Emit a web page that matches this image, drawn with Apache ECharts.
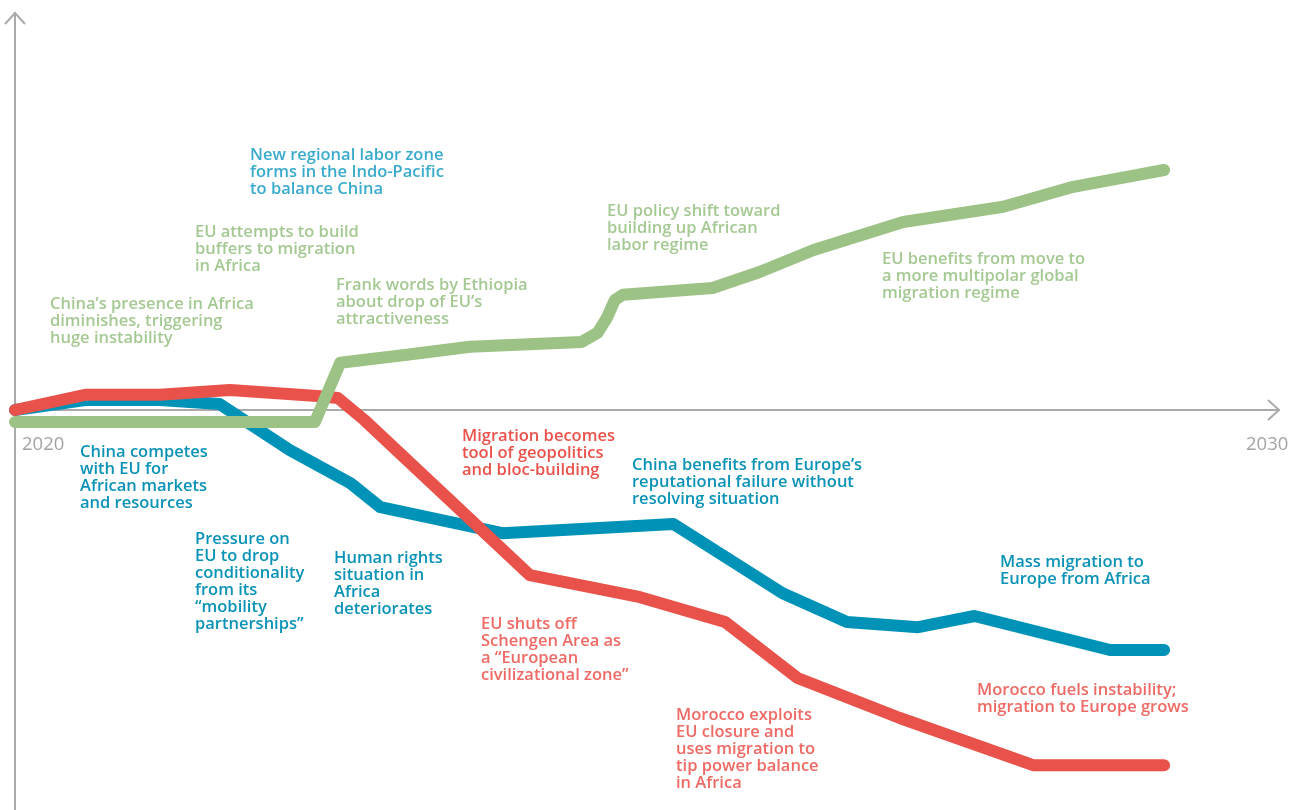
<!DOCTYPE html>
<html>
<head>
<meta charset="utf-8">
<title>Scenario paths 2020-2030</title>
<script src="https://cdn.jsdelivr.net/npm/echarts@6/dist/echarts.min.js"></script>
<style>
  html, body { margin: 0; padding: 0; background: #fff; }
  #chart { width: 1298px; height: 810px; }
</style>
</head>
<body>
<div id="chart"></div>
<script>
// years on x, a scenario index on y (0 = today's level)
const greenYears = [2020, 2022.61, 2022.83, 2023.41, 2023.96, 2024.93, 2025.07, 2025.15, 2025.22, 2025.29, 2026.07, 2026.48, 2026.95, 2027.73, 2028.6, 2029.21, 2030];
const greenValues = [-0.3, -0.3, 1.18, 1.38, 1.58, 1.7, 1.93, 2.3, 2.75, 2.88, 3.05, 3.45, 4.0, 4.7, 5.08, 5.58, 6.0];

const blueYears = [2020, 2020.61, 2021.26, 2021.78, 2022.39, 2022.92, 2023.18, 2024.24, 2025.73, 2026.68, 2027.24, 2027.86, 2028.35, 2029.53, 2030];
const blueValues = [0, 0.25, 0.25, 0.15, -1.0, -1.83, -2.43, -3.08, -2.85, -4.58, -5.3, -5.43, -5.15, -6.0, -6.0];

const redYears = [2020, 2020.61, 2021.26, 2021.87, 2022.63, 2022.81, 2023.04, 2024.48, 2025.44, 2026.18, 2026.81, 2027.7, 2028.86, 2030];
const redValues = [0, 0.38, 0.38, 0.5, 0.35, 0.3, -0.25, -4.13, -4.68, -5.3, -6.7, -7.7, -8.88, -8.88];

const tickLabels = ['2020', '2030'];

// annotations: [text lines, colour key, left px, top px]
const notes = [
  [['New regional labor zone', 'forms in the Indo-Pacific', 'to balance China'], 'blueLight', 250, 147],
  [['EU attempts to build', 'buffers to migration', 'in Africa'], 'green', 195, 224],
  [['China\u2019s presence in Africa', 'diminishes, triggering', 'huge instability'], 'green', 50, 296],
  [['Frank words by Ethiopia', 'about drop of EU\u2019s', 'attractiveness'], 'green', 336, 277],
  [['EU policy shift toward', 'building up African', 'labor regime'], 'green', 607, 203],
  [['EU benefits from move to', 'a more multipolar global', 'migration regime'], 'green', 882, 251],
  [['China competes', 'with EU for', 'African markets', 'and resources'], 'blue', 80, 444],
  [['Pressure on', 'EU to drop', 'conditionality', 'from its', '\u201Cmobility', 'partnerships\u201D'], 'blue', 195, 531],
  [['Human rights', 'situation in', 'Africa', 'deteriorates'], 'blue', 334, 550],
  [['Migration becomes', 'tool of geopolitics', 'and bloc-building'], 'red', 462, 428],
  [['China benefits from Europe\u2019s', 'reputational failure without', 'resolving situation'], 'blue', 632, 457],
  [['EU shuts off', 'Schengen Area as', 'a \u201CEuropean', 'civilizational zone\u201D'], 'redLight', 481, 616],
  [['Mass migration to', 'Europe from Africa'], 'blue', 1000, 554],
  [['Morocco fuels instability;', 'migration to Europe grows'], 'redLight', 977, 682],
  [['Morocco exploits', 'EU closure and', 'uses migration to', 'tip power balance', 'in Africa'], 'redLight', 676, 707]
];

const colors = {
  green: '#9dc285',
  blue: '#0093b7',
  red: '#e9524a',
  greenText: '#a5c993',
  blueText: '#0b93b7',
  blueLightText: '#3aabcd',
  redText: '#ea524b',
  redLightText: '#ef6a64',
  axis: '#aaaaaa'
};

const chart = echarts.init(document.getElementById('chart'));

const pairs = (xs, ys) => xs.map((x, i) => [x, ys[i]]);

const lineSeries = (name, xs, ys, color) => ({
  name: name,
  type: 'line',
  data: pairs(xs, ys),
  showSymbol: false,
  clip: false,
  silent: true,
  lineStyle: { color: color, width: 12, cap: 'round', join: 'round' },
  animation: false
});

const textFont = '600 16.5px "Open Sans", "Noto Sans", sans-serif';

const graphics = notes.map(([lines, key, left, top]) => ({
  type: 'text',
  left: left,
  top: top,
  silent: true,
  style: {
    text: lines.join('\n'),
    fill: colors[key + 'Text'],
    font: textFont,
    lineHeight: 17
  }
}));

// year labels and open arrow heads
graphics.push(
  { type: 'text', left: 22, top: 435, style: { text: tickLabels[0], fill: '#a3a3a3', font: '18.5px "Open Sans", sans-serif' } },
  { type: 'text', left: 1246, top: 435, style: { text: tickLabels[1], fill: '#a3a3a3', font: '18.5px "Open Sans", sans-serif' } },
  { type: 'polyline', shape: { points: [[1268, 400], [1279, 410], [1268, 420]] }, style: { stroke: colors.axis, lineWidth: 2, fill: null } },
  { type: 'polyline', shape: { points: [[5, 24], [15, 13], [25, 24]] }, style: { stroke: colors.axis, lineWidth: 2, fill: null } }
);

const option = {
  animation: false,
  grid: { left: 15, right: 19, top: 13, bottom: 0 },
  xAxis: {
    type: 'value',
    min: 2020,
    max: 2031,
    axisLine: { onZero: true, lineStyle: { color: colors.axis, width: 2 } },
    axisTick: { show: false },
    axisLabel: { show: false },
    splitLine: { show: false }
  },
  yAxis: {
    type: 'value',
    min: -10,
    max: 9.925,
    axisLine: { show: true, onZero: false, lineStyle: { color: colors.axis, width: 2 } },
    axisTick: { show: false },
    axisLabel: { show: false },
    splitLine: { show: false }
  },
  series: [
    lineSeries('blue', blueYears, blueValues, colors.blue),
    lineSeries('red', redYears, redValues, colors.red),
    lineSeries('green', greenYears, greenValues, colors.green)
  ],
  graphic: graphics
};

chart.setOption(option);
</script>
</body>
</html>
